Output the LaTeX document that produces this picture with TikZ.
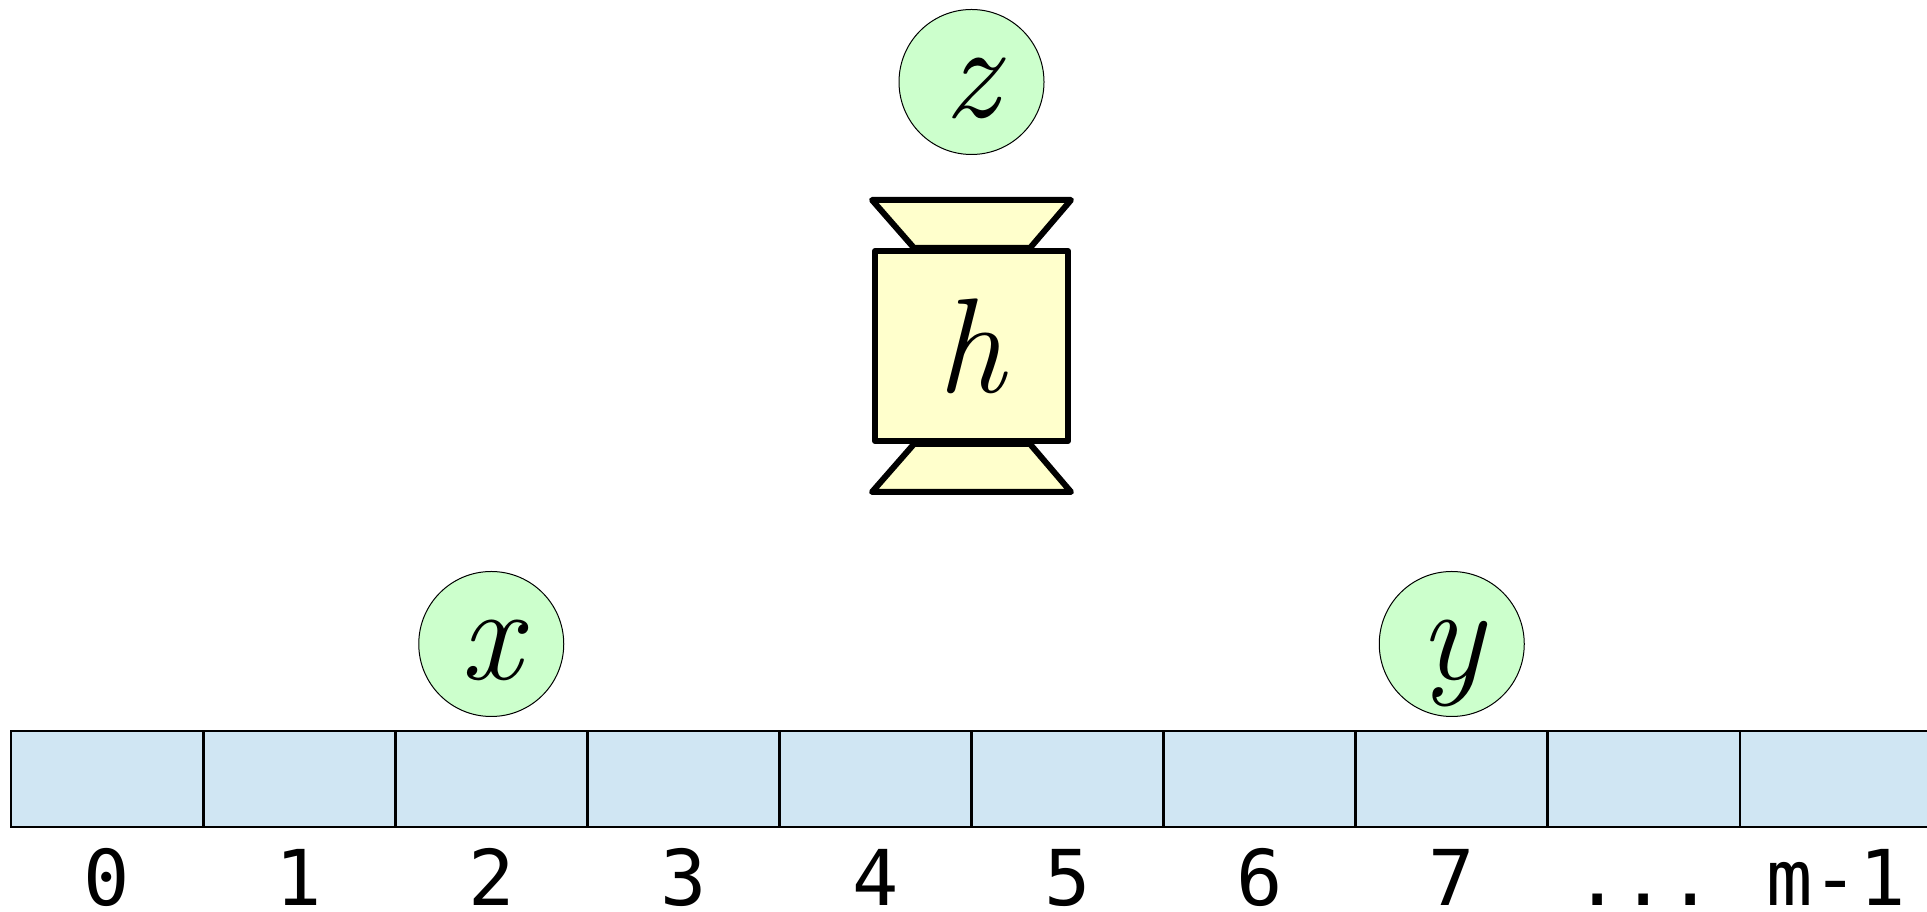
\documentclass[tikz,border=0pt]{standalone}
\usepackage{fontspec}
\usetikzlibrary{calc}
\newfontfamily\idxfont{DejaVu Sans Mono}
\definecolor{cellblue}{HTML}{D0E6F3}
\definecolor{nodegreen}{HTML}{CCFFCC}
\definecolor{boxyellow}{HTML}{FFFFCC}
\begin{document}
\begin{tikzpicture}[x=1pt,y=1pt,
  cell/.style={draw=black, fill=cellblue, line width=2.8pt, minimum width=192.1pt, minimum height=96pt, inner sep=0pt, outer sep=0pt},
  idx/.style={anchor=base, font=\idxfont\fontsize{77}{88}\selectfont, inner sep=0pt},
  var/.style={circle, draw=black, fill=nodegreen, line width=1pt, minimum size=145pt, inner sep=0pt, text height=72pt, text depth=0pt, font=\itshape\fontsize{135}{140}\selectfont},
  hbox/.style={draw=black, fill=boxyellow, line width=6pt, line join=round, minimum width=193pt, minimum height=190pt, inner sep=0pt, font=\itshape\fontsize{135}{140}\selectfont},
  trap/.style={draw=black, fill=boxyellow, line width=6pt, line join=round}]
\useasboundingbox (0,0) rectangle (1927,912);
\clip (0,0) rectangle (1927,912);
% array cells
\foreach \i in {0,...,9}
  \node[cell] (c\i) at ({107.05+192.1*\i},133) {};
% index labels
\foreach \i/\t in {0/0,1/1,2/2,3/3,4/4,5/5,6/6,7/7,8/{...},9/{m-1}}
  \node[idx] (l\i) at ({107.05+192.1*\i},6) {\t};
% variables
\node[var] (x) at (491.25,268) {x};
\node[var] (y) at (1451.75,268) {y};
\node[var] (z) at (971.5,830) {z};
% hash function box
\node[hbox] (h) at (971.5,566) {h};
\draw[trap] ($(h.north west)+(0,48)$) -- ($(h.north east)+(0,48)$) -- ($(h.north east)+(-41,0)$) -- ($(h.north west)+(42,0)$) -- cycle;
\draw[trap] ($(h.south west)+(0,-48)$) -- ($(h.south east)+(0,-48)$) -- ($(h.south east)+(-41,0)$) -- ($(h.south west)+(42,0)$) -- cycle;
\end{tikzpicture}
\end{document}
